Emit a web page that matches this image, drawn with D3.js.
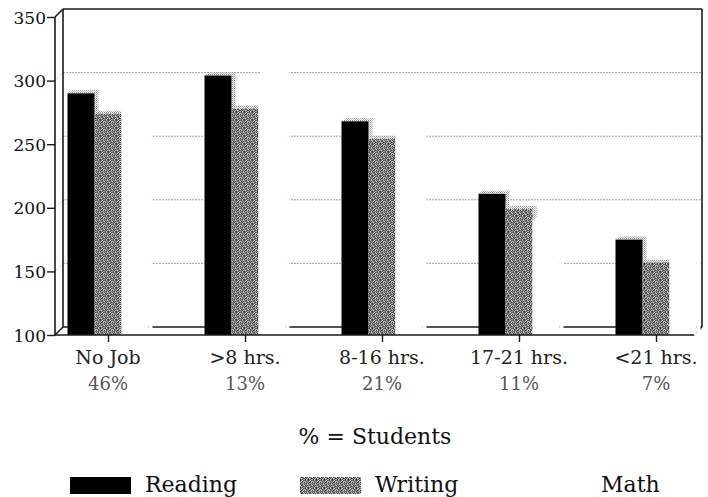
<!DOCTYPE html>
<html>
<head>
<meta charset="utf-8">
<script src="https://cdn.jsdelivr.net/npm/d3@7"></script>
<style>
  html, body { margin: 0; padding: 0; background: #fff; }
  svg { display: block; }
  svg text { font-family: "DejaVu Serif", "Liberation Serif", "Noto Serif", serif !important; }
</style>
</head>
<body>
<svg id="chart" width="708" height="497"></svg>
<script>
// ---- data ----
const categories = ["No Job", ">8 hrs.", "8-16 hrs.", "17-21 hrs.", "<21 hrs."];
const studentShare = ["46%", "13%", "21%", "11%", "7%"];
const seriesNames = ["Reading", "Writing", "Math"];
const reading = [290, 304, 268, 211, 175];
const writing = [274, 278, 254, 199, 157];
const math = [280, 305, 262, 190, 165];
const yTicks = [100, 150, 200, 250, 300, 350];
const gridValues = [150, 200, 250, 300];
const footnote = "% = Students";

// ---- layout ----
const svg = d3.select("#chart");
const xLeft = 55, xRight = 694;
const depthX = 8, depthY = -8;
const barDX = 4, barDY = -3;

const x = d3.scalePoint().domain(categories).range([108, 656]);
const xs = d3.scaleBand().domain(seriesNames).range([-40.5, 40.5]);
const y = d3.scaleLinear().domain([100, 350]).range([335, 17]);

const seriesValues = { Reading: reading, Writing: writing, Math: math };

// stipple texture (8x8 tile of grey levels)
const tile = [
  "31731572",
  "75153716",
  "17526137",
  "53171563",
  "26375317",
  "71517235",
  "35263751",
  "61731526"
];
const shade = { "1": "#3c3c3c", "2": "#505050", "3": "#666", "5": "#8c8c8c", "6": "#a8a8a8", "7": "#c8c8c8" };
const defs = svg.append("defs");
const pw = defs.append("pattern").attr("id", "stipple")
  .attr("width", 8).attr("height", 8).attr("patternUnits", "userSpaceOnUse");
tile.forEach((row, py) => row.split("").forEach((ch, px) => {
  pw.append("rect").attr("x", px).attr("y", py).attr("width", 1).attr("height", 1).attr("fill", shade[ch]);
}));
const pl = defs.append("pattern").attr("id", "light")
  .attr("width", 2).attr("height", 2).attr("patternUnits", "userSpaceOnUse");
pl.append("rect").attr("width", 2).attr("height", 2).attr("fill", "#fff");
pl.append("rect").attr("width", 1).attr("height", 1).attr("fill", "#8a8a8a");
pl.append("rect").attr("x", 1).attr("y", 1).attr("width", 1).attr("height", 1).attr("fill", "#b5b5b5");

const frontFill = { Reading: "#000", Writing: "url(#stipple)", Math: "#fff" };
const faceFill = { Reading: "url(#light)", Writing: "url(#light)", Math: "#fff" };

// ---- back wall gridlines ----
const grid = svg.append("g");
grid.selectAll("line.grid").data(gridValues).join("line")
  .attr("x1", xLeft + depthX).attr("x2", xRight + depthX)
  .attr("y1", d => y(d) + depthY).attr("y2", d => y(d) + depthY)
  .attr("stroke", "#a0a0a0").attr("stroke-width", 1).attr("stroke-dasharray", "2,1");
grid.selectAll("line.diag").data(gridValues).join("line")
  .attr("x1", xLeft).attr("y1", d => y(d))
  .attr("x2", xLeft + depthX).attr("y2", d => y(d) + depthY)
  .attr("stroke", "#bbb").attr("stroke-width", 1).attr("stroke-dasharray", "1,1");

const frame = svg.append("g").attr("fill", "none").attr("stroke", "#1a1a1a").attr("stroke-width", 1.6);
frame.append("line").attr("x1", xLeft + depthX).attr("x2", xRight + depthX)
  .attr("y1", y(350) + depthY).attr("y2", y(350) + depthY);
frame.append("line").attr("x1", xLeft + depthX).attr("x2", xLeft + depthX)
  .attr("y1", y(350) + depthY).attr("y2", y(100) + depthY);
frame.append("line").attr("x1", xRight + depthX).attr("x2", xRight + depthX)
  .attr("y1", y(350) + depthY).attr("y2", y(100) + depthY);
frame.append("line").attr("x1", xLeft + depthX).attr("x2", xRight + depthX)
  .attr("y1", y(100) + depthY).attr("y2", y(100) + depthY);
frame.append("line").attr("x1", xLeft).attr("y1", y(350))
  .attr("x2", xLeft + depthX).attr("y2", y(350) + depthY);
frame.append("line").attr("x1", xLeft).attr("y1", y(100))
  .attr("x2", xLeft + depthX).attr("y2", y(100) + depthY);
frame.append("line").attr("x1", xRight).attr("y1", y(100))
  .attr("x2", xRight + depthX).attr("y2", y(100) + depthY);

// ---- bars ----
const bars = [];
categories.forEach((c, i) => {
  seriesNames.forEach(s => bars.push({ c, s, v: seriesValues[s][i] }));
});
const barG = svg.append("g");
const w = xs.bandwidth();
bars.forEach(b => {
  const x0 = x(b.c) + xs(b.s);
  const top = y(b.v), bot = y(100);
  const g = barG.append("g");
  g.append("polygon")
    .attr("points", [[x0 + w, top], [x0 + w + barDX, top + barDY], [x0 + w + barDX, bot + barDY], [x0 + w, bot]].join(" "))
    .attr("fill", faceFill[b.s]);
  g.append("polygon")
    .attr("points", [[x0, top], [x0 + barDX, top + barDY], [x0 + w + barDX, top + barDY], [x0 + w, top]].join(" "))
    .attr("fill", faceFill[b.s]);
  g.append("rect").attr("x", x0).attr("y", top).attr("width", w).attr("height", bot - top)
    .attr("fill", frontFill[b.s]);
});

// ---- axes ----
const yAxis = svg.append("g").attr("transform", `translate(${xLeft},0)`)
  .call(d3.axisLeft(y).tickValues(yTicks).tickSize(8).tickPadding(1).tickFormat(d3.format("d")));
yAxis.attr("font-family", null);
yAxis.select(".domain").attr("stroke", "#1a1a1a").attr("stroke-width", 1.6).attr("d", `M0,${y(350)}V${y(100)}`);
yAxis.selectAll(".tick line").attr("stroke", "#1a1a1a").attr("stroke-width", 1.4);
yAxis.selectAll(".tick text").attr("font-size", 17).attr("fill", "#111").attr("dy", "0.36em");

const xAxis = svg.append("g").attr("transform", `translate(0,${y(100)})`)
  .call(d3.axisBottom(x).tickSize(7).tickFormat(""));
xAxis.attr("font-family", null);
xAxis.select(".domain").attr("stroke", "#1a1a1a").attr("stroke-width", 1.6).attr("d", `M${xLeft},0H${xRight}`);
xAxis.selectAll(".tick line").attr("stroke", "#1a1a1a").attr("stroke-width", 1.4);

const labels = svg.append("g").attr("text-anchor", "middle");
labels.selectAll("text.cat").data(categories).join("text").attr("class", "cat")
  .attr("x", d => x(d)).attr("y", 364).attr("font-size", 19).attr("fill", "#222").text(d => d);
labels.selectAll("text.pct").data(categories).join("text").attr("class", "pct")
  .attr("x", d => x(d)).attr("y", 390).attr("font-size", 18).attr("fill", "#555")
  .text((d, i) => studentShare[i]);

svg.append("text").attr("x", 375).attr("y", 444).attr("text-anchor", "middle")
  .attr("font-size", 22).attr("fill", "#111").text(footnote);

// ---- legend ----
const legendX = { Reading: 70, Writing: 300, Math: 526 };
const legend = svg.append("g");
seriesNames.forEach(s => {
  legend.append("rect").attr("x", legendX[s]).attr("y", 477).attr("width", 61).attr("height", 17)
    .attr("fill", frontFill[s]);
  legend.append("text").attr("x", legendX[s] + 75).attr("y", 492)
    .attr("font-size", 22).attr("fill", "#111").text(s);
});
</script>
</body>
</html>
